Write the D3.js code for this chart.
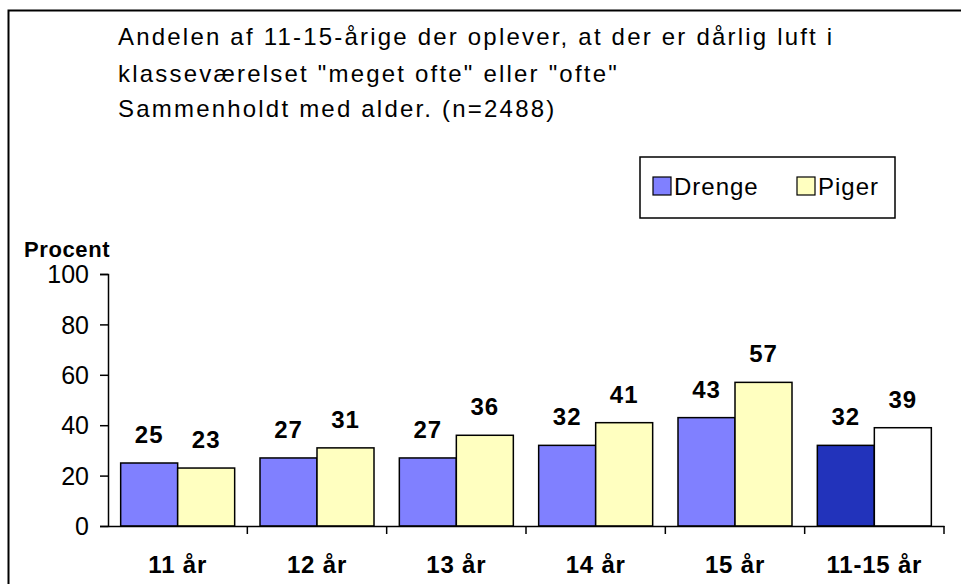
<!DOCTYPE html>
<html>
<head>
<meta charset="utf-8">
<script src="https://cdn.jsdelivr.net/npm/d3@7"></script>
<style>
    body { margin: 0; background: #fff; }
    text { font-family: Arial, "Liberation Sans", sans-serif; }
</style>
</head>
<body>
<div id="chart"></div>
<script>
// data
const categories = ["11 år", "12 år", "13 år", "14 år", "15 år", "11-15 år"];
const drenge = [25, 27, 27, 32, 43, 32];
const piger = [23, 31, 36, 41, 57, 39];
const yTicks = [0, 20, 40, 60, 80, 100];
const titleLines = [
    "Andelen af 11-15-årige der oplever, at der er dårlig luft i",
    "klasseværelset \"meget ofte\" eller \"ofte\"",
    "Sammenholdt med alder. (n=2488)"
];

const render = () => {
    const width = 961, height = 584;
    const left = 108, right = 944, top = 274, bottom = 526;
    const fontFam = "Arial, 'Liberation Sans', sans-serif";

    let svg = d3.select("#chart").append("svg")
        .attr("width", width)
        .attr("height", height);

    // ramme
    svg.append("rect")
        .attr("x", 8.5).attr("y", 10.5)
        .attr("width", 970).attr("height", 600)
        .attr("fill", "none").attr("stroke", "#000").attr("stroke-width", 2);

    svg.append("g").selectAll("text")
        .data(titleLines)
        .join("text")
        .attr("x", 118)
        .attr("y", (d, i) => [45, 82, 117][i])
        .attr("font-size", 24)
        .attr("letter-spacing", 2.2)
        .text(d => d);

    const x = d3.scaleBand().domain(categories).range([left, right]);
    const y = d3.scaleLinear().domain([0, 100]).range([bottom, top]);
    const barW = 57;
    const gap = (x.bandwidth() - 2 * barW) / 2;

    // y-akse
    const yAxis = svg.append("g")
        .attr("transform", `translate(${left},0)`)
        .call(d3.axisLeft(y).tickValues(yTicks).tickSize(8).tickPadding(11));
    yAxis.select(".domain").attr("stroke", "#000").attr("stroke-width", 1.5);
    yAxis.selectAll(".tick line").attr("stroke", "#000").attr("stroke-width", 1.5);
    yAxis.selectAll(".tick text").attr("font-size", 25).attr("fill", "#000")
        .attr("font-family", fontFam).attr("dy", "0.35em");

    svg.append("text")
        .attr("x", 24).attr("y", 257)
        .attr("font-size", 22).attr("font-weight", "bold")
        .attr("letter-spacing", 0.6)
        .text("Procent");

    const colorD = (d, i) => i === categories.length - 1 ? "#2233BB" : "#8080FF";
    const colorP = (d, i) => i === categories.length - 1 ? "#FFFFFF" : "#FFFFC0";

    const groups = [
        { vals: drenge, off: gap, fill: colorD },
        { vals: piger, off: gap + barW, fill: colorP }
    ];

    groups.forEach(g => {
        svg.append("g").selectAll("rect")
            .data(g.vals)
            .join("rect")
            .attr("x", (d, i) => x(categories[i]) + g.off)
            .attr("y", d => y(d))
            .attr("width", barW)
            .attr("height", d => y(0) - y(d))
            .attr("fill", g.fill)
            .attr("stroke", "#000")
            .attr("stroke-width", 1.5);

        svg.append("g").selectAll("text")
            .data(g.vals)
            .join("text")
            .attr("x", (d, i) => x(categories[i]) + g.off + barW / 2)
            .attr("y", d => y(d) - 20)
            .attr("text-anchor", "middle")
            .attr("font-size", 24).attr("font-weight", "bold")
            .attr("letter-spacing", 1)
            .text(d => d);
    });

    // x-akse
    const xAxis = svg.append("g")
        .attr("transform", `translate(0,${bottom})`)
        .call(d3.axisBottom(x).tickSize(0));
    xAxis.select(".domain").attr("stroke", "#000").attr("stroke-width", 1.5);
    xAxis.selectAll(".tick text")
        .attr("y", 47).attr("dy", null)
        .attr("font-size", 24).attr("font-weight", "bold")
        .attr("letter-spacing", 0.8)
        .attr("fill", "#000").attr("font-family", fontFam);
    svg.append("g").selectAll("line")
        .data(categories)
        .join("line")
        .attr("x1", d => x(d) + x.bandwidth()).attr("x2", d => x(d) + x.bandwidth())
        .attr("y1", bottom).attr("y2", bottom + 8)
        .attr("stroke", "#000").attr("stroke-width", 1.5);

    // legende
    const lg = svg.append("g");
    lg.append("rect")
        .attr("x", 640).attr("y", 157).attr("width", 255).attr("height", 61)
        .attr("fill", "#fff").attr("stroke", "#000").attr("stroke-width", 1.5);
    const legendItems = [
        { name: "Drenge", fill: "#8080FF", x: 653 },
        { name: "Piger", fill: "#FFFFC0", x: 797 }
    ];
    legendItems.forEach(it => {
        lg.append("rect")
            .attr("x", it.x).attr("y", 177).attr("width", 18).attr("height", 18)
            .attr("fill", it.fill).attr("stroke", "#000").attr("stroke-width", 1.2);
        lg.append("text")
            .attr("x", it.x + 21).attr("y", 195)
            .attr("font-size", 24)
            .attr("letter-spacing", 1)
            .text(it.name);
    });
}

render();
</script>
</body>
</html>
